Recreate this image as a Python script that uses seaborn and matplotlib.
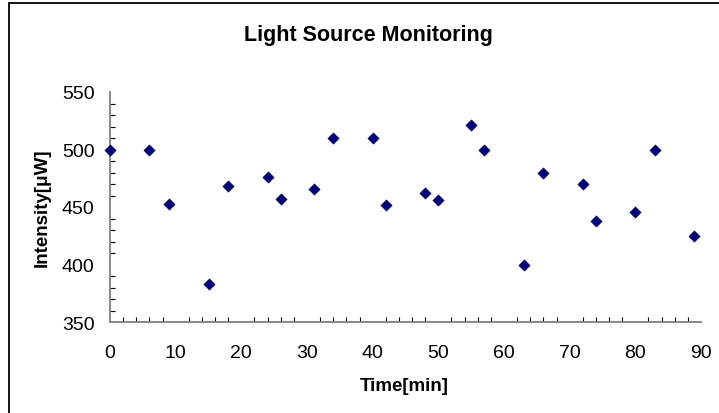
import matplotlib
matplotlib.use("Agg")
import matplotlib.pyplot as plt
from matplotlib.patches import Rectangle
from matplotlib.ticker import MultipleLocator
import seaborn as sns
import pandas as pd

time_min = [0, 6, 9, 15, 18, 24, 26, 31, 34, 40, 42, 48, 50, 55, 57, 63, 66, 72, 74, 80, 83, 89]
intensity_uw = [500, 500, 453, 383, 468, 476, 457, 466, 510, 510, 452, 462, 456, 521, 500, 400, 480, 470, 438, 446, 500, 425]
x_ticks = [0, 10, 20, 30, 40, 50, 60, 70, 80, 90]
y_ticks = [350, 400, 450, 500, 550]
title = "Light Source Monitoring"
x_label = "Time[min]"
y_label = "Intensity[\u03bcW]"

sns.set_style("white")
plt.rcParams['font.family'] = ['Liberation Sans', 'DejaVu Sans']
plt.rcParams['text.color'] = 'black'
plt.rcParams['axes.labelcolor'] = 'black'
plt.rcParams['xtick.color'] = 'black'
plt.rcParams['ytick.color'] = 'black'

df = pd.DataFrame({"t": time_min, "i": intensity_uw})

W, H = 719, 414
fig = plt.figure(figsize=(W / 100, H / 100), dpi=100)
ax = fig.add_axes([110 / W, 1 - 323 / H, (701 - 110) / W, (323 - 93) / H])

sns.scatterplot(data=df, x="t", y="i", ax=ax, marker="D", s=34, color="#000080",
                edgecolor="#000080", linewidth=0.3, zorder=5, clip_on=False)

ax.set_xlim(0, 90)
ax.set_ylim(350, 550)
ax.set_xticks(x_ticks)
ax.set_yticks(y_ticks)
ax.xaxis.set_minor_locator(MultipleLocator(2))
ax.yaxis.set_minor_locator(MultipleLocator(10))

for s in ["top", "right"]:
    ax.spines[s].set_visible(False)
for s in ["left", "bottom"]:
    ax.spines[s].set_color("#808080")
    ax.spines[s].set_linewidth(1.3)

ax.tick_params(axis="both", which="major", direction="inout", length=8, width=0.9,
               color="black", labelsize=14, labelcolor="black")
ax.tick_params(axis="y", which="major", pad=7)
ax.tick_params(axis="x", which="major", pad=12)
ax.tick_params(axis="both", which="minor", direction="in", length=3.5, width=0.8, color="black")
ax.tick_params(axis="x", which="minor", bottom=True)
ax.tick_params(axis="y", which="minor", left=True)

ax.set_xlabel(x_label, fontsize=13.5, fontweight="bold", color="black")
ax.xaxis.set_label_coords(404 / W, 1 - 387 / H, transform=fig.transFigure)
ax.xaxis.label.set_va("center")
ax.set_ylabel(y_label, fontsize=13.5, fontweight="bold", color="black")
ax.yaxis.set_label_coords(42 / W, 1 - 208 / H, transform=fig.transFigure)
ax.yaxis.label.set_va("center")
fig.text(368 / W, 1 - 35 / H, title, ha="center", va="center", fontsize=15.5,
         fontweight="bold", color="black")

fig.patches.append(Rectangle((9 / W, -0.1), 1.2, 1.1 - 4 / H, transform=fig.transFigure,
                             fill=False, edgecolor="black", linewidth=1.3))

fig.savefig("out.png", dpi=100)
